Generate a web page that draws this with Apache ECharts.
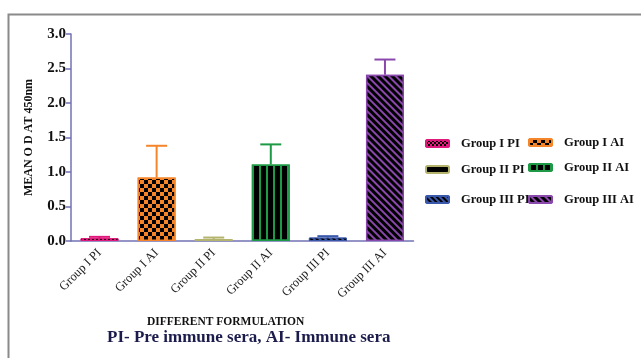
<!DOCTYPE html>
<html><head><meta charset="utf-8">
<script src="https://cdn.jsdelivr.net/npm/echarts@6/dist/echarts.min.js"></script>
<style>html,body{margin:0;padding:0;background:#fff}#c{width:641px;height:358px}</style>
</head><body><div id="c"></div>
<script>
const categories = ['Group I PI','Group I AI','Group II PI','Group II AI','Group III PI','Group III AI'];
const means = [0.04, 0.92, 0.03, 1.11, 0.05, 2.41];
const errors = [0.02, 0.46, 0.02, 0.29, 0.02, 0.22];
const yTicks = [0, 0.5, 1.0, 1.5, 2.0, 2.5, 3.0];
const yAxisTitle = 'MEAN O D AT 450nm';
const xAxisTitle = 'DIFFERENT FORMULATION';
const footnote = 'PI- Pre immune sera, AI- Immune sera';

const serif = '"Liberation Serif","DejaVu Serif",serif';
const axisColor = '#7272b4';
const edgeColors = ['#e0187c','#f4852a','#b4b46c','#1e9a46','#3a58aa','#8a48ac'];
const styles = [
  {color:'#e8187e', borderColor:'#e0187c', borderWidth:1,
   decal:{symbol:'rect', color:'#000', dashArrayX:[[2,2],[0,2,2,0]], dashArrayY:[2,0], symbolSize:1}},
  {color:'#f4852a', borderColor:'#f4852a', borderWidth:1.5,
   decal:{symbol:'rect', color:'#000', dashArrayX:[[4,4],[0,4,4,0]], dashArrayY:[4,0], symbolSize:1}},
  {color:'#000', borderColor:'#b4b46c', borderWidth:1.5},
  {color:'#000', borderColor:'#1e9a46', borderWidth:1.5,
   decal:{symbol:'rect', color:'#1e9a46', dashArrayX:[1.3,4.9], dashArrayY:[10,0], symbolSize:1}},
  {color:'#3a58aa', borderColor:'#3a58aa', borderWidth:1,
   decal:{symbol:'rect', color:'#000', dashArrayX:[1,0], dashArrayY:[2,1.5], rotation:Math.PI/4, symbolSize:1}},
  {color:'#8a48ac', borderColor:'#8a48ac', borderWidth:1.5,
   decal:{symbol:'rect', color:'#000', dashArrayX:[1,0], dashArrayY:[2.6,1.1], rotation:Math.PI/4, symbolSize:1}}
];

const barSeries = categories.map((name, i) => ({
  name: name, type: 'bar', barWidth: 38, barGap: '-100%',
  data: categories.map((c, j) => j === i ? means[j] : null),
  itemStyle: styles[i], z: 2
}));

const errSeries = {
  type: 'custom', z: 5, silent: true,
  data: means.map((m, i) => [i, m, errors[i]]),
  renderItem: function (params, api) {
    const i = api.value(0), m = api.value(1), e = api.value(2);
    const p0 = api.coord([i, m]);
    const p1 = api.coord([i, m + e]);
    const col = edgeColors[i];
    return {type:'group', children:[
      {type:'line', shape:{x1:p0[0], y1:p0[1], x2:p1[0], y2:p1[1]}, style:{stroke:col, lineWidth:2}},
      {type:'line', shape:{x1:p1[0]-10.5, y1:p1[1], x2:p1[0]+10.5, y2:p1[1]}, style:{stroke:col, lineWidth:2}}
    ]};
  }
};

const legendPos = [
  [425, 137], [528, 136],
  [425, 163], [528, 161],
  [425, 193], [528, 193]
];
const legends = categories.map((name, i) => ({
  data: [name], left: legendPos[i][0], top: legendPos[i][1],
  itemWidth: 23, itemHeight: 7, selectedMode: false, padding: 0,
  textStyle: {fontFamily: serif, fontWeight: 'bold', fontSize: 12.5, color: '#111', padding: [0,0,0,7]}
}));

const chart = echarts.init(document.getElementById('c'));
chart.setOption({
  animation: false,
  backgroundColor: '#fff',
  grid: {left: 71, right: 227.5, top: 34, bottom: 117},
  legend: legends,
  xAxis: {
    type: 'category', data: categories,
    axisLine: {lineStyle: {color: axisColor, width: 1.5}},
    axisTick: {alignWithLabel: true, length: 5, lineStyle: {color: axisColor, width: 1.5}},
    axisLabel: {rotate: 45, fontFamily: serif, fontSize: 12.5, color: '#222', margin: 10}
  },
  yAxis: {
    type: 'value', min: yTicks[0], max: yTicks[yTicks.length-1], interval: 0.5,
    name: yAxisTitle, nameLocation: 'middle', nameGap: 36,
    nameTextStyle: {fontFamily: serif, fontWeight: 'bold', fontSize: 12, color: '#111'},
    splitLine: {show: false},
    axisLine: {show: true, lineStyle: {color: axisColor, width: 1.5}},
    axisTick: {show: true, length: 5, lineStyle: {color: axisColor, width: 1.5}},
    axisLabel: {fontFamily: serif, fontWeight: 'bold', fontSize: 15, color: '#111', margin: 5,
      formatter: v => v.toFixed(1)}
  },
  graphic: [
    {type:'rect', shape:{x:8.5, y:14.5, width:700, height:400}, style:{fill:'none', stroke:'#8a8a8a', lineWidth:2}, z: -1},
    {type:'text', left: 147, top: 316, style:{text: xAxisTitle, font: 'bold 11.5px ' + serif, fill:'#111'}},
    {type:'text', left: 107, top: 329, style:{text: footnote, font: 'bold 17px ' + serif, fill:'#1c1c4c'}}
  ],
  series: barSeries.concat([errSeries])
});
</script></body></html>
